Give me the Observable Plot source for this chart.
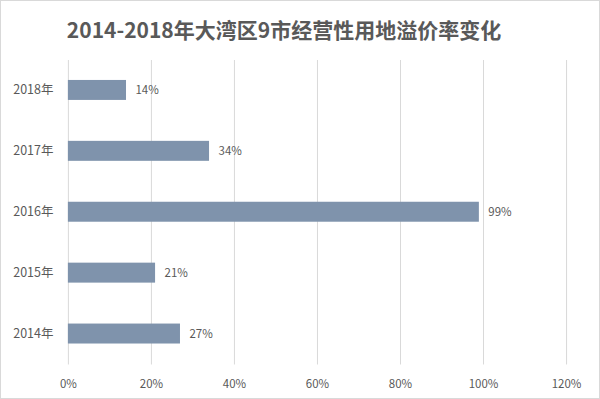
<!DOCTYPE html>
<html>
<head>
<meta charset="utf-8">
<script src="https://cdn.jsdelivr.net/npm/d3@7"></script>
<script src="https://cdn.jsdelivr.net/npm/@observablehq/plot@0.6"></script>
<style>
  html, body { margin: 0; padding: 0; background: #fff; }
  #wrap { width: 598px; height: 397px; border: 1px solid #d9d9d9; position: relative; overflow: hidden; background:#fff; }
  #title { position: absolute; left: 0; top: 13px; width: 566px; text-align: center;
    font-family: "Noto Sans CJK SC", "Noto Sans", sans-serif; font-weight: bold; font-size: 21px; color: #595959; }
  #chart { position: absolute; left: -1px; top: 54px; }
</style>
</head>
<body>
<div id="wrap">
  <div id="title">2014-2018年大湾区9市经营性用地溢价率变化</div>
  <div id="chart"></div>
</div>
<script>
const years = ["2018年", "2017年", "2016年", "2015年", "2014年"];
const rates = [0.14, 0.34, 0.99, 0.21, 0.27];
const xTicks = [0, 0.2, 0.4, 0.6, 0.8, 1.0, 1.2];

const data = years.map((y, i) => ({year: y, rate: rates[i]}));
const pct = d => Math.round(d * 100) + "%";

const chart = Plot.plot({
  width: 600,
  height: 344,
  marginTop: 5,
  marginBottom: 34,
  marginLeft: 68,
  marginRight: 33,
  style: { fontFamily: "'Noto Sans CJK SC', 'Noto Sans', sans-serif", fontSize: "11px", color: "#595959", background: "transparent" },
  x: { domain: [0, 1.2], ticks: xTicks, tickFormat: pct, label: null },
  y: { domain: years, label: null, paddingInner: 0.667, paddingOuter: 0.32 },
  marks: [
    Plot.gridX({ ticks: xTicks, stroke: "#d9d9d9", strokeOpacity: 1, strokeWidth: 1 }),
    Plot.barX(data, { x: "rate", y: "year", fill: "#7f93ac" }),
    Plot.text(data, { x: "rate", y: "year", text: d => pct(d.rate), dx: 9, textAnchor: "start", fill: "#595959", fontSize: 11.5 }),
    Plot.axisX({ ticks: xTicks, tickFormat: pct, tickSize: 0, tickPadding: 15, label: null, fontSize: 11.5 }),
    Plot.axisY({ tickSize: 0, tickPadding: 15, label: null, fontSize: 12.5 })
  ]
});
document.getElementById("chart").appendChild(chart);
</script>
</body>
</html>
